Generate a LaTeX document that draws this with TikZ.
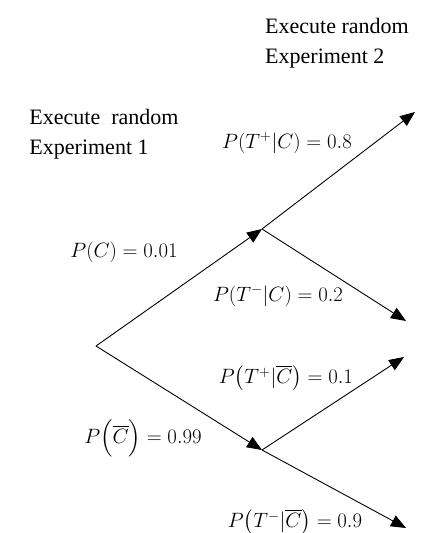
\documentclass[tikz,border=0pt]{standalone}
\usepackage{amsmath}
\usepackage{fontspec}
\setmainfont{Liberation Serif}
\usetikzlibrary{arrows.meta,positioning}

\begin{document}
\begin{tikzpicture}[x=1pt, y=-1pt,
  branch/.style={line width=0.9pt, -{Triangle[length=15pt, width=12pt]}},
  plabel/.style={font=\fontsize{21}{24}\selectfont, inner sep=0pt},
  steptext/.style={font=\fontsize{22}{30}\selectfont, align=left, inner sep=0pt}]
\useasboundingbox (0,0) rectangle (441,533);
\coordinate (root) at (96,346);
\coordinate (c) at (262,229);
\coordinate (nc) at (262,450);
\coordinate (tpc) at (415,112);
\coordinate (tmc) at (406,321);
\coordinate (tpnc) at (404,357);
\coordinate (tmnc) at (406,528);
\node[steptext] (exp2) at (337,43) {Execute random\\Experiment 2};
\node[steptext] (exp1) at (104,134) {Execute\ \ random\\Experiment 1};
\node[plabel] (lc) at (124,252) {$P(C) = 0.01$};
\node[plabel] (lnc) at (143,438) {$P\Bigl(\overline{C}\Bigr) = 0.99$};
\node[plabel] (ltpc) at (287,143) {$P(T^{+}|C) = 0.8$};
\node[plabel] (ltmc) at (278,296) {$P(T^{-}|C) = 0.2$};
\node[plabel] (ltpnc) at (286,378) {$P\bigl(T^{+}|\overline{C}\bigr) = 0.1$};
\node[plabel] (ltmnc) at (295,522) {$P\bigl(T^{-}|\overline{C}\bigr) = 0.9$};
\draw[branch] (root) -- (c);
\draw[branch] (root) -- (nc);
\draw[branch] (c) -- (tpc);
\draw[branch] (c) -- (tmc);
\draw[branch] (nc) -- (tpnc);
\draw[branch] (nc) -- (tmnc);
\end{tikzpicture}
\end{document}
